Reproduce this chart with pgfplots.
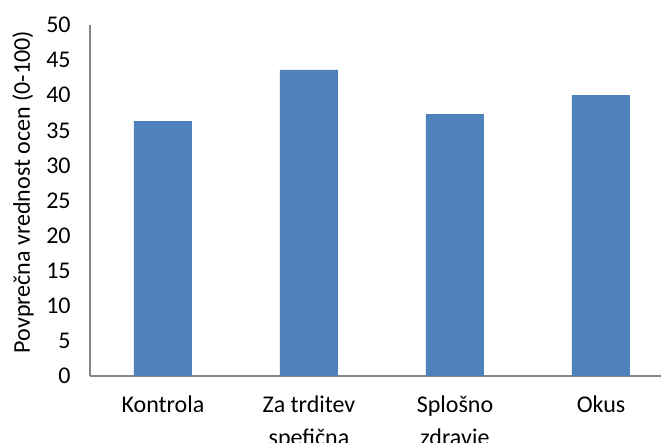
\documentclass[border=0pt]{standalone}
\usepackage{fontspec}
\setmainfont{Carlito}
\usepackage{pgfplots}
\pgfplotsset{compat=1.18}
\definecolor{barblue}{RGB}{79,129,189}
\definecolor{axisgray}{RGB}{134,134,134}
\begin{document}
\begin{tikzpicture}
\useasboundingbox (0,0) rectangle (495.75pt,332.25pt);
\clip (0,0) rectangle (495.75pt,332.25pt);
\begin{axis}[
  at={(67.5pt,50.25pt)}, anchor=south west,
  scale only axis, width=438pt, height=263.25pt,
  ymin=0, ymax=50, ytick={0,5,...,50},
  xmin=-0.5, xmax=3.5,
  xtick={0,1,2,3},
  xticklabels={Kontrola, {Za trditev\\spefična}, {Splošno\\zdravje}, Okus},
  axis x line*=bottom, axis y line*=left,
  axis line style={axisgray, line width=1pt, -},
  major tick length=0pt,
  /pgf/number format/assume math mode=true,
  ticklabel style={font=\fontsize{18}{24.5}\selectfont},
  xticklabel style={align=center, yshift=-11.5pt},
  yticklabel style={xshift=-11pt},
  ylabel={Povprečna vrednost ocen (0-100)},
  ylabel style={font=\fontsize{18}{21}\selectfont, at={(axis description cs:-0.1147,0.524)}, anchor=center},
  ybar, bar width=43.5pt,
]
\addplot[fill=barblue, draw=none] coordinates {(0,36.3) (1,43.6) (2,37.3) (3,40.0)};
\end{axis}
\end{tikzpicture}
\end{document}
